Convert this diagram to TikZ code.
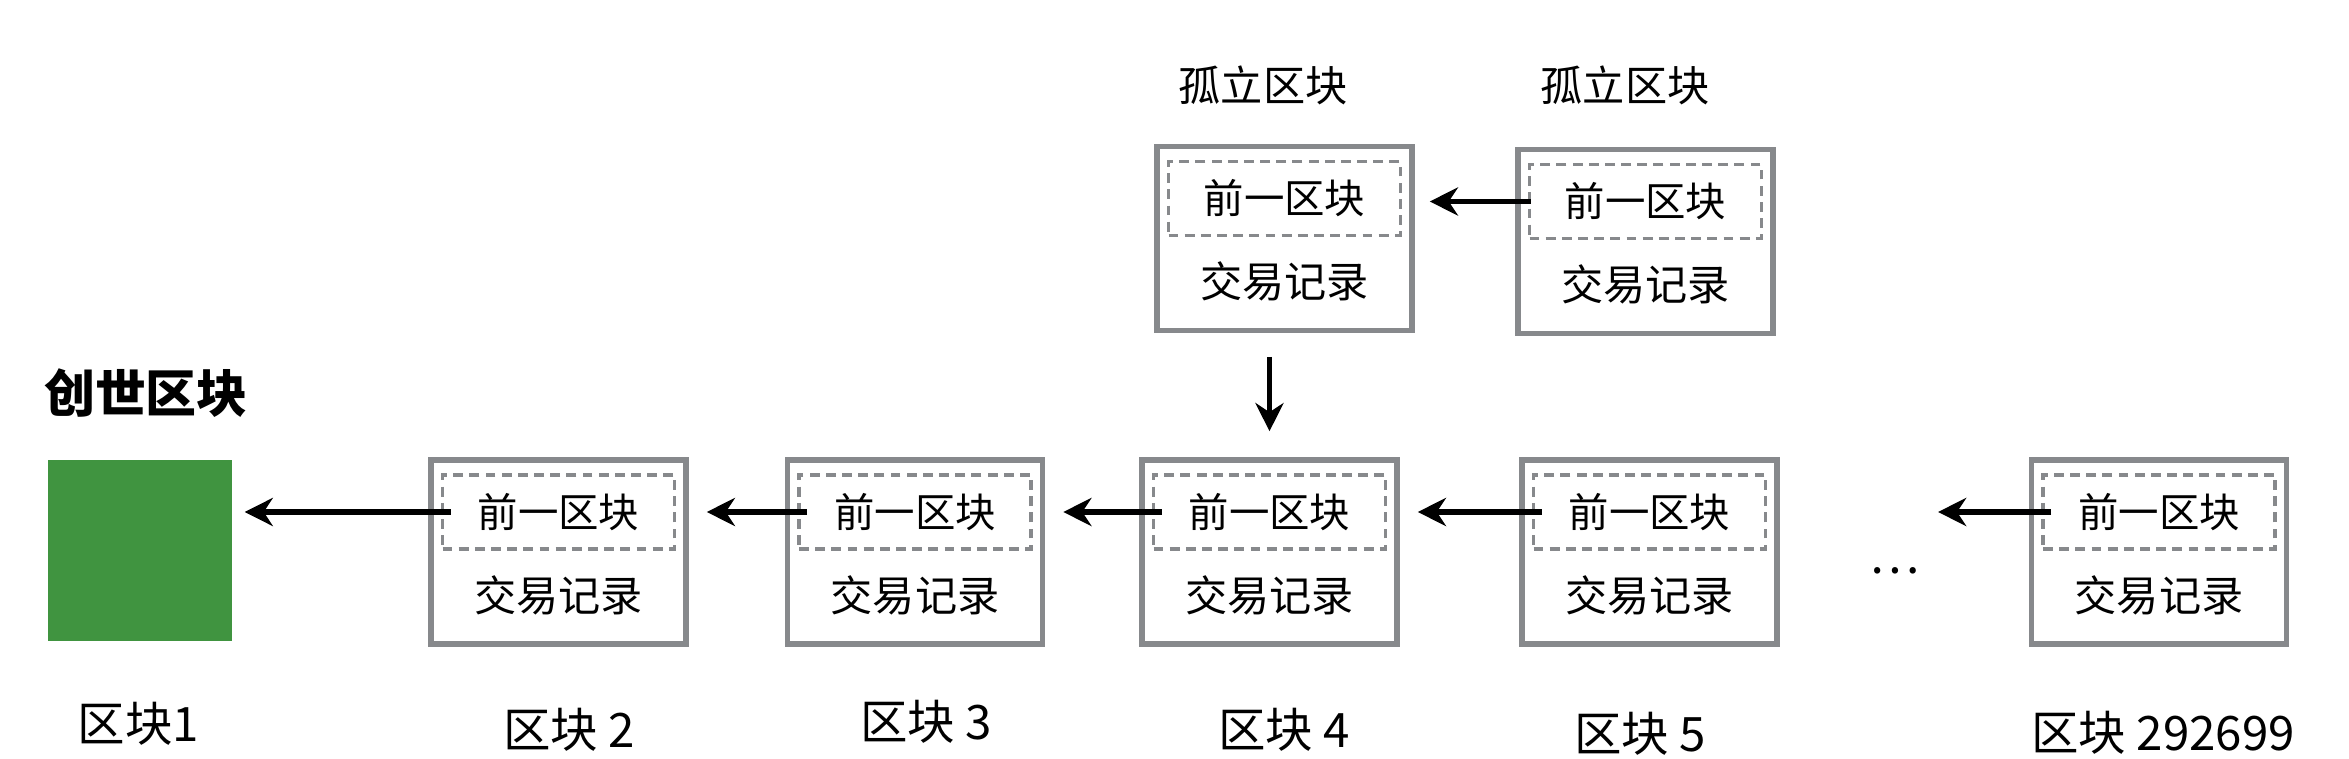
\documentclass[tikz,border=0pt]{standalone}
\usepackage{fontspec}
\setmainfont{Noto Sans CJK SC}
\usepackage{tikz}
\usetikzlibrary{calc}
\usetikzlibrary{arrows.meta}
\definecolor{boxgray}{RGB}{135,137,140}
\definecolor{genesisgreen}{RGB}{64,148,64}
\tikzset{
  outerbox/.style={draw=boxgray, line width=1.6pt, minimum width=2.55cm, minimum height=1.84cm, inner sep=0pt},
  prevbox/.style={draw=boxgray, line width=1.1pt, dash pattern=on 2.8pt off 1.8pt, minimum width=2.32cm, minimum height=0.74cm, inner sep=0pt, font=\fontsize{11.5}{13}\selectfont},
  txtlabel/.style={inner sep=0pt, font=\fontsize{12}{14}\selectfont},
  blocklabel/.style={inner sep=0pt, font=\fontsize{13.5}{16}\selectfont},
  arr/.style={line width=1.5pt, -{Stealth[length=8pt,width=8pt]}}
}
\newcommand{\chainblock}[3]{\node[outerbox] (#1) at ( #2 , #3 ) {}; \node[prevbox] (#1p) at ($(#1)+(0,0.40)$) {前一区块}; \node[txtlabel] (#1t) at ($(#1)+(0,-0.43)$) {交易记录};}

\begin{document}
\begin{tikzpicture}
        \useasboundingbox (0,0) rectangle (23.49,7.59);
        % genesis
        \node[fill=genesisgreen, minimum width=1.84cm, minimum height=1.81cm, inner sep=0pt] (g) at (1.40,2.085) {};
        \node[inner sep=0pt, font=\fontsize{14.5}{17}\selectfont\bfseries] (gname) at (1.46,3.66) {创世区块};
        % main chain
        \chainblock{b2}{5.585}{2.07}
        \chainblock{b3}{9.15}{2.07}
        \chainblock{b4}{12.695}{2.07}
        \chainblock{b5}{16.495}{2.07}
        \chainblock{bN}{21.59}{2.07}
        % orphans
        \chainblock{o1}{12.845}{5.205}
        \chainblock{o2}{16.455}{5.175}
        \node[txtlabel] (o1name) at (12.63,6.74) {孤立区块};
        \node[txtlabel] (o2name) at (16.25,6.74) {孤立区块};
        % labels
        \node[blocklabel] (l1) at (1.386,0.355) {区块1};
        \node[blocklabel] (l2) at (5.69,0.295) {区块 2};
        \node[blocklabel] (l3) at (9.26,0.37) {区块 3};
        \node[blocklabel] (l4) at (12.84,0.295) {区块 4};
        \node[blocklabel] (l5) at (16.40,0.25) {区块 5};
        \node[blocklabel] (l6) at (21.63,0.265) {区块 292699};
        \node[blocklabel] (dots) at (18.95,1.88) {\ldots};
        % arrows
        \coordinate (gap) at ($(bNp.west)+(-1.03,0)$);
        \draw[arr] ([xshift=1mm]b2p.west) -- ([xshift=1.2mm]b2p.west -| g.east);
        \draw[arr] ([xshift=1mm]b3p.west) -- ([xshift=1.8mm]b3p.west -| b2.east);
        \draw[arr] ([xshift=1mm]b4p.west) -- ([xshift=1.8mm]b4p.west -| b3.east);
        \draw[arr] ([xshift=1mm]b5p.west) -- ([xshift=1.8mm]b5p.west -| b4.east);
        \draw[arr] ([xshift=1mm]bNp.west) -- (gap);
        \draw[arr] ([xshift=0.3mm]o2p.west) -- ([xshift=1.5mm]o2p.west -| o1.east);
        \draw[arr] ([yshift=-2.35mm]o1.south -| b4.north) -- ([yshift=2.6mm]b4.north);
\end{tikzpicture}
\end{document}
